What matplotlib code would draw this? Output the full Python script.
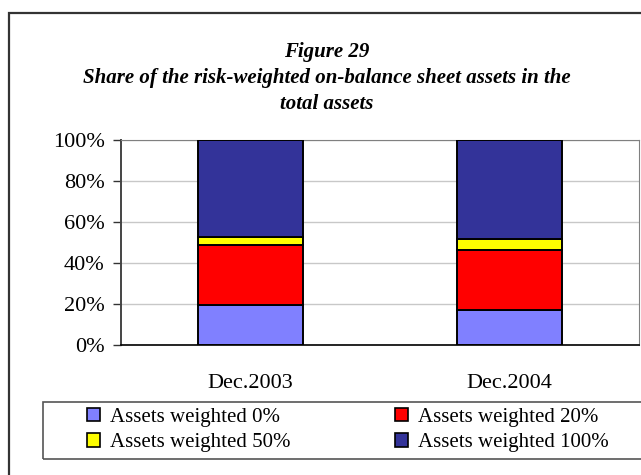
import matplotlib.pyplot as plt
from matplotlib.patches import Rectangle
import numpy as np

periods = ['Dec.2003', 'Dec.2004']
series_names = ['Assets weighted 0%', 'Assets weighted 20%',
                'Assets weighted 50%', 'Assets weighted 100%']
w0 = [19.5, 17.1]
w20 = [29.3, 29.2]
w50 = [4.0, 5.3]
w100 = [47.2, 48.4]
colors = ['#8080FF', '#FF0000', '#FFFF00', '#333399']

plt.rcParams['font.family'] = 'Liberation Serif'
plt.rcParams['font.size'] = 15

W, H = 641, 475
fig = plt.figure(figsize=(W / 100, H / 100), dpi=100)

def fx(px):
    return px / W

def fy(py):
    return 1 - py / H

# outer frame (cut off at right/bottom)
fig.patches.append(Rectangle((fx(9), fy(490)), fx(660 - 9), fy(13) - fy(490),
                             transform=fig.transFigure, fill=False,
                             edgecolor='#333333', linewidth=1.6))
# legend box
fig.patches.append(Rectangle((fx(43), fy(459)), fx(650 - 43), fy(402) - fy(459),
                             transform=fig.transFigure, fill=False,
                             edgecolor='#555555', linewidth=1.2))

ax = fig.add_axes([fx(121), fy(345), fx(639) - fx(121), fy(140) - fy(345)])

x = np.arange(len(periods))
bw = 0.405
bottom = np.zeros(len(periods))
handles = []
for vals, name, c in zip([w0, w20, w50, w100], series_names, colors):
    h = ax.bar(x, vals, bw, bottom=bottom, color=c, edgecolor='black',
               linewidth=1.4, label=name, zorder=3)
    handles.append(h)
    bottom += np.array(vals)

ax.set_xlim(-0.5, 1.5)
ax.set_ylim(0, 100)
ax.set_yticks(np.arange(0, 101, 20))
ax.set_yticklabels([f'{v}%' for v in range(0, 101, 20)])
ax.set_xticks(x)
ax.set_xticklabels(periods)
ax.tick_params(axis='x', length=0, pad=21, labelsize=16)
ax.tick_params(axis='y', direction='out', length=5.8, width=1, pad=6,
               color='#333333', labelsize=16)
ax.yaxis.grid(True, color='#C8C8C8', linewidth=1, zorder=0)
ax.set_axisbelow(True)
ax.spines['left'].set_color('#444444')
ax.spines['left'].set_linewidth(1.4)
ax.spines['bottom'].set_color('black')
ax.spines['bottom'].set_linewidth(1.2)
ax.spines['top'].set_color('#808080')
ax.spines['right'].set_color('#808080')

title_kw = dict(ha='center', va='center', fontweight='bold',
                fontstyle='italic', fontsize=15)
fig.text(fx(327), fy(52), 'Figure 29', **title_kw)
fig.text(fx(327), fy(78), 'Share of the risk-weighted on-balance sheet assets in the',
         **title_kw)
fig.text(fx(327), fy(104), 'total assets', **title_kw)

order = [0, 2, 1, 3]
leg = fig.legend([handles[i] for i in order], [series_names[i] for i in order],
                 loc='center', ncol=2, bbox_to_anchor=(fx(348), fy(430)),
                 bbox_transform=fig.transFigure, frameon=False,
                 handlelength=0.62, handleheight=0.62, handletextpad=0.5,
                 labelspacing=0.3, borderpad=0, borderaxespad=0,
                 columnspacing=5.0, fontsize=15)
for p in leg.get_patches():
    p.set_linewidth(1.2)

fig.savefig('out.png', dpi=100)
